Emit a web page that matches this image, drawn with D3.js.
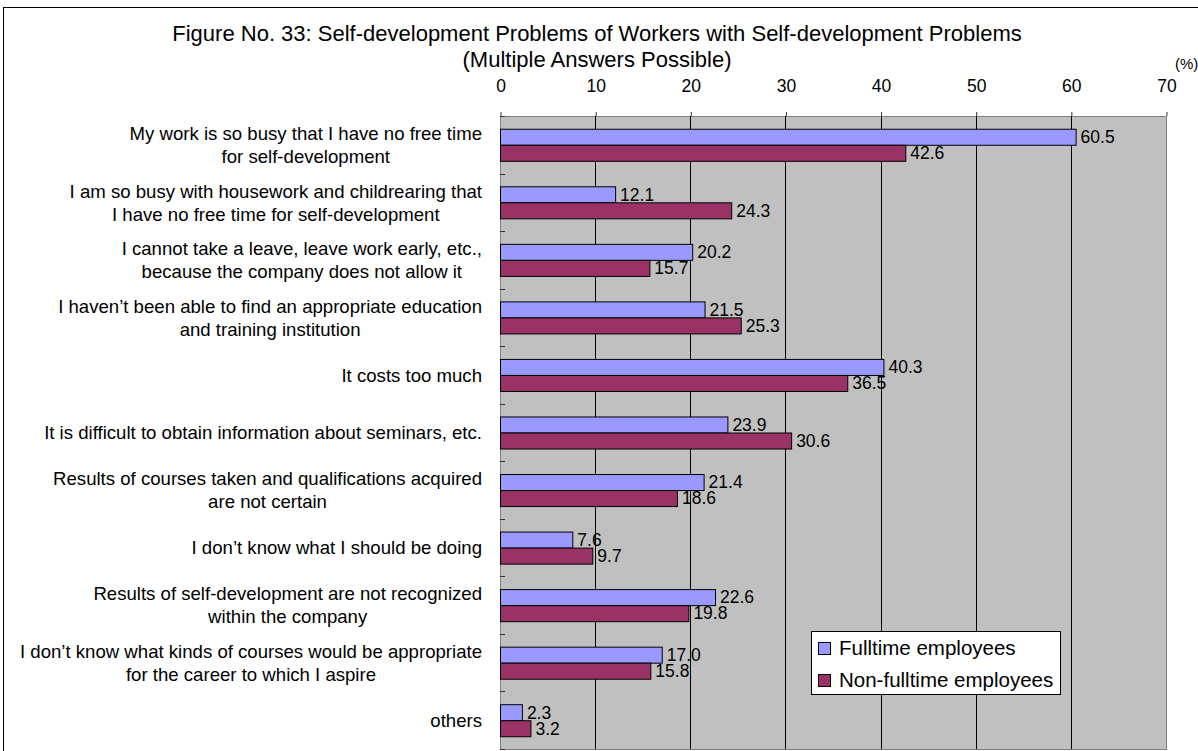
<!DOCTYPE html>
<html>
<head>
<meta charset="utf-8">
<script src="https://cdn.jsdelivr.net/npm/d3@7"></script>
<style>
  body { margin: 0; background: #fff; }
  svg { display: block; font-family: "Liberation Sans", Arial, sans-serif; }
</style>
</head>
<body>
<svg id="chart" width="1198" height="751"></svg>
<script>
// Survey categories (each entry is a list of wrapped label lines)
const categories = [
  ["My work is so busy that I have no free time", "for self-development"],
  ["I am so busy with housework and childrearing that", "I have no free time for self-development"],
  ["I cannot take a leave, leave work early, etc.,", "because the company does not allow it"],
  ["I haven\u2019t been able to find an appropriate education", "and training institution"],
  ["It costs too much"],
  ["It is difficult to obtain information about seminars, etc."],
  ["Results of courses taken and qualifications acquired", "are not certain"],
  ["I don\u2019t know what I should be doing"],
  ["Results of self-development are not recognized", "within the company"],
  ["I don\u2019t know what kinds of courses would be appropriate", "for the career to which I aspire"],
  ["others"]
];
const fulltime    = [60.5, 12.1, 20.2, 21.5, 40.3, 23.9, 21.4, 7.6, 22.6, 17.0, 2.3];
const nonFulltime = [42.6, 24.3, 15.7, 25.3, 36.5, 30.6, 18.6, 9.7, 19.8, 15.8, 3.2];
const seriesNames = ["Fulltime employees", "Non-fulltime employees"];
const seriesColors = ["#9999FF", "#993366"];
const tickValues = [0, 10, 20, 30, 40, 50, 60, 70];
const titleLines = ["Figure No. 33: Self-development Problems of Workers with Self-development Problems",
                    "(Multiple Answers Possible)"];

const svg = d3.select("#chart");
const plot = { left: 500, right: 1166, top: 116, bottom: 749 };

// outer chart frame
svg.append("rect")
  .attr("x", 3.5).attr("y", 7.5)
  .attr("width", 1300).attr("height", 900)
  .attr("fill", "#fff").attr("stroke", "#000").attr("stroke-width", 1);

// title
svg.append("g").selectAll("text").data(titleLines).join("text")
  .attr("x", 597)
  .attr("y", (d, i) => 41 + i * 26)
  .attr("text-anchor", "middle")
  .attr("font-size", 22)
  .attr("fill", "#000")
  .text(d => d);

svg.append("text")
  .attr("x", 1175).attr("y", 69)
  .attr("font-size", 15)
  .text("(%)");

const keys = categories.map((d, i) => i);
const x = d3.scaleLinear().domain([0, 70]).range([plot.left, plot.right]);
const y = d3.scaleBand().domain(keys).range([plot.top, plot.bottom])
  .paddingInner(0.443).paddingOuter(0.2215);
const ySub = d3.scaleBand().domain([0, 1]).range([0, y.bandwidth()]);
const step = y.step();

// plot area
svg.append("rect")
  .attr("x", plot.left + 0.5).attr("y", plot.top + 0.5)
  .attr("width", plot.right - plot.left).attr("height", plot.bottom - plot.top)
  .attr("fill", "#C0C0C0").attr("stroke", "#808080");

// vertical gridlines
svg.append("g").selectAll("line").data(tickValues.filter(t => t > 0 && t < 70)).join("line")
  .attr("x1", d => Math.round(x(d)) + 0.5).attr("x2", d => Math.round(x(d)) + 0.5)
  .attr("y1", plot.top).attr("y2", plot.bottom)
  .attr("stroke", "#000").attr("stroke-width", 1);

// value axis along the top
const axis = svg.append("g")
  .attr("transform", `translate(0.5,${plot.top})`)
  .call(d3.axisTop(x).tickValues(tickValues).tickSize(4).tickPadding(20).tickFormat(d3.format("d")));
axis.select(".domain").remove();
axis.selectAll(".tick line").attr("stroke", "#333");
axis.selectAll(".tick text")
  .attr("font-size", 17.5)
  .attr("font-family", "\"Liberation Sans\", Arial, sans-serif")
  .attr("fill", "#000");

// category boundary ticks
svg.append("g").selectAll("line").data(d3.range(categories.length + 1)).join("line")
  .attr("x1", plot.left).attr("x2", plot.left + 5)
  .attr("y1", i => Math.round(plot.top + i * step) + 0.5)
  .attr("y2", i => Math.round(plot.top + i * step) + 0.5)
  .attr("stroke", "#333");

// bars
const rows = keys.map(i => ({ i, values: [fulltime[i], nonFulltime[i]] }));
const groups = svg.append("g").selectAll("g").data(rows).join("g")
  .attr("transform", d => `translate(0,${y(d.i)})`);

groups.selectAll("rect").data(d => d.values.map((v, s) => ({ v, s }))).join("rect")
  .attr("x", plot.left + 0.5)
  .attr("y", d => ySub(d.s) + 0.5)
  .attr("width", d => x(d.v) - x(0))
  .attr("height", ySub.bandwidth())
  .attr("fill", d => seriesColors[d.s])
  .attr("stroke", "#000").attr("stroke-width", 1);

// value labels
groups.selectAll("text").data(d => d.values.map((v, s) => ({ v, s }))).join("text")
  .attr("x", d => x(d.v) + 5)
  .attr("y", d => ySub(d.s) + ySub.bandwidth() / 2)
  .attr("dy", "0.36em")
  .attr("font-size", 17.5)
  .attr("fill", "#000")
  .text(d => d3.format(".1f")(d.v));

// category labels: lines centred on each other, block aligned right
const labelRight = 482;
const lineGap = 23;
const labels = svg.append("g").selectAll("g").data(categories).join("g");
labels.each(function(lines, i) {
  const g = d3.select(this);
  const cy = plot.top + (i + 0.5) * step;
  const texts = g.selectAll("text").data(lines).join("text")
    .attr("font-size", 18.6)
    .attr("fill", "#000")
    .attr("text-anchor", "middle")
    .attr("y", (d, k) => cy + (k - (lines.length - 1) / 2) * lineGap)
    .attr("dy", "0.36em")
    .text(d => d);
  let maxW = 0;
  texts.each(function() { maxW = Math.max(maxW, this.getComputedTextLength()); });
  texts.attr("x", labelRight - maxW / 2);
});

// legend
const legend = svg.append("g").attr("transform", "translate(811,631)");
legend.append("rect")
  .attr("x", 0.5).attr("y", 0.5).attr("width", 249).attr("height", 63)
  .attr("fill", "#fff").attr("stroke", "#000");
const items = legend.selectAll("g.item").data(seriesNames).join("g")
  .attr("class", "item")
  .attr("transform", (d, i) => `translate(0,${17 + i * 32})`);
items.append("rect")
  .attr("x", 7.5).attr("y", -5.5).attr("width", 12).attr("height", 12)
  .attr("fill", (d, i) => seriesColors[i]).attr("stroke", "#000");
items.append("text")
  .attr("x", 28).attr("y", 0).attr("dy", "0.36em")
  .attr("font-size", 20.5)
  .text(d => d);
</script>
</body>
</html>
